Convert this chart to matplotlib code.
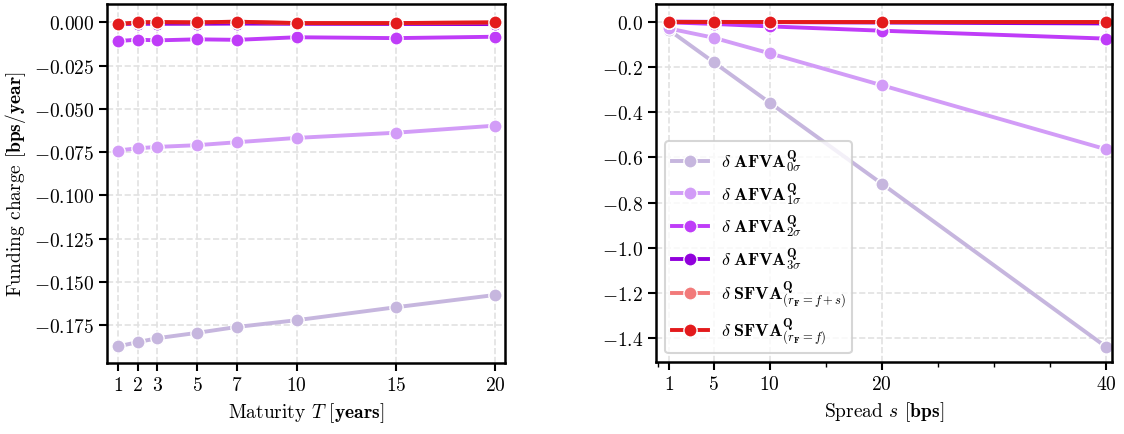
import matplotlib
matplotlib.use('Agg')
import matplotlib.pyplot as plt
from matplotlib.ticker import MultipleLocator, FormatStrFormatter

plt.rcParams['font.family'] = 'serif'
plt.rcParams['font.serif'] = ['cmr10']
plt.rcParams['mathtext.fontset'] = 'cm'
plt.rcParams['axes.formatter.use_mathtext'] = True
plt.rcParams['axes.unicode_minus'] = True

# Data
maturity = [1, 2, 3, 5, 7, 10, 15, 20]
afva0_T = [-0.1874, -0.1849, -0.1826, -0.1795, -0.1761, -0.1722, -0.1647, -0.1576]
afva1_T = [-0.0741, -0.0728, -0.0720, -0.0710, -0.0693, -0.0668, -0.0638, -0.0597]
afva2_T = [-0.0108, -0.0100, -0.0104, -0.0098, -0.0101, -0.0086, -0.0091, -0.0083]
afva3_T = [-0.0010, -0.0008, -0.0008, -0.0008, -0.0007, -0.0008, -0.0009, -0.0010]
sfva_fs_T = [-0.0010, 0.0000, 0.0002, 0.0000, 0.0004, -0.0004, -0.0004, 0.0000]
sfva_f_T = [-0.0010, 0.0000, 0.0002, 0.0000, 0.0004, -0.0004, -0.0004, 0.0000]

spread = [1, 5, 10, 20, 40]
afva0_s = [-0.036, -0.179, -0.358, -0.716, -1.437]
afva1_s = [-0.030, -0.071, -0.140, -0.281, -0.564]
afva2_s = [-0.003, -0.010, -0.021, -0.040, -0.075]
afva3_s = [-0.000, -0.001, -0.002, -0.004, -0.008]
sfva_fs_s = [0.0, 0.0, 0.0, 0.0, 0.0]
sfva_f_s = [0.0, 0.0, 0.0, 0.0, 0.0]

labels = [r'$\delta\;\mathbf{AFVA}^{\mathbf{Q}}_{0\sigma}$',
          r'$\delta\;\mathbf{AFVA}^{\mathbf{Q}}_{1\sigma}$',
          r'$\delta\;\mathbf{AFVA}^{\mathbf{Q}}_{2\sigma}$',
          r'$\delta\;\mathbf{AFVA}^{\mathbf{Q}}_{3\sigma}$',
          r'$\delta\;\mathbf{SFVA}^{\mathbf{Q}}_{(r_{\mathbf{F}}=f+s)}$',
          r'$\delta\;\mathbf{SFVA}^{\mathbf{Q}}_{(r_{\mathbf{F}}=f)}$']
colors = ['#c6b6de', '#d29cf7', '#bf3cf8', '#9100dc', '#f27a7a', '#e31a1c']

fig = plt.figure(figsize=(11.24, 4.35), dpi=100)
ax1 = fig.add_axes([0.0955, 0.163, 0.354, 0.825])
ax2 = fig.add_axes([0.584, 0.165, 0.405, 0.823])

series_T = [afva0_T, afva1_T, afva2_T, afva3_T, sfva_fs_T, sfva_f_T]
series_s = [afva0_s, afva1_s, afva2_s, afva3_s, sfva_fs_s, sfva_f_s]

for ys, c, lab in zip(series_T, colors, labels):
    ax1.plot(maturity, ys, color=c, lw=2.8, marker='o', ms=9.5,
             mec='white', mew=1.0, label=lab)
for ys, c, lab in zip(series_s, colors, labels):
    ax2.plot(spread, ys, color=c, lw=2.8, marker='o', ms=9.5,
             mec='white', mew=1.0, label=lab)

# Left panel
ax1.set_xlim(0.48, 20.5)
ax1.set_ylim(-0.197, 0.0105)
ax1.set_xticks(maturity)
ax1.set_yticks([0.0, -0.025, -0.05, -0.075, -0.1, -0.125, -0.15, -0.175])
ax1.yaxis.set_major_formatter(FormatStrFormatter('$%.3f$'))
ax1.set_xlabel(r'Maturity $T$ [$\mathbf{years}$]', fontsize=14)
ax1.set_ylabel(r'Funding charge [$\mathbf{bps/year}$]', fontsize=14)
ax1.yaxis.set_label_coords(-0.2, 0.5)

# Right panel
ax2.set_xlim(-0.1, 40.5)
ax2.set_ylim(-1.505, 0.077)
ax2.set_xticks(spread)
ax2.xaxis.set_minor_locator(MultipleLocator(5))
ax2.set_yticks([0.0, -0.2, -0.4, -0.6, -0.8, -1.0, -1.2, -1.4])
ax2.yaxis.set_major_formatter(FormatStrFormatter('$%.1f$'))
ax2.set_xlabel(r'Spread $s$ [$\mathbf{bps}$]', fontsize=14)

for ax in (ax1, ax2):
    ax.grid(True, which='major', ls='--', color='#e2e2e2', lw=1.2)
    ax.set_axisbelow(True)
    for sp in ax.spines.values():
        sp.set_linewidth(1.8)
        sp.set_color('black')
    ax.tick_params(which='major', length=6, width=1.5, labelsize=14, direction='out')
    ax.tick_params(which='minor', length=3.5, width=1.0, direction='out')

leg = ax2.legend(loc='lower left', fontsize=13, handlelength=2.0,
                 frameon=True, fancybox=True, framealpha=0.8,
                 edgecolor='#cccccc', borderpad=0.35, labelspacing=0.35,
                 handletextpad=0.7, bbox_to_anchor=(0.0, 0.0))
leg.get_frame().set_linewidth(1.5)

plt.savefig('out.png', dpi=100)
